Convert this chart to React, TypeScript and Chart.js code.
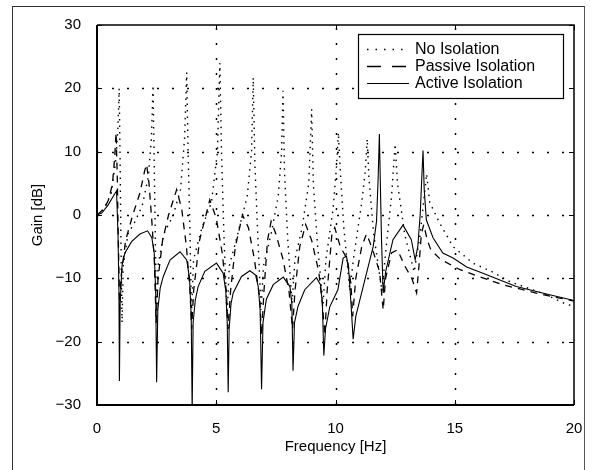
import React, { useEffect, useRef } from "react";
import { Chart, registerables } from "chart.js";

Chart.register(...registerables);

// ---- Data ----
const noIsoFreq = [
  0, 0.3, 0.6, 0.8, 0.88, 0.93, 0.97, 1.0, 1.05, 1.1,
  1.3, 1.6, 1.9, 2.15, 2.28, 2.35, 2.4, 2.45, 2.5, 2.56,
  2.8, 3.2, 3.5, 3.67, 3.76, 3.82, 3.9, 3.96, 4.05, 4.4,
  4.8, 5.05, 5.15, 5.22, 5.32, 5.45, 5.55, 5.9, 6.3, 6.48,
  6.55, 6.62, 6.75, 6.88, 6.98, 7.3, 7.6, 7.74, 7.8, 7.86,
  8.0, 8.18, 8.3, 8.6, 8.88, 9.0, 9.07, 9.25, 9.48, 9.6,
  9.9, 10.05, 10.12, 10.2, 10.35, 10.6, 10.75, 11.1, 11.25, 11.33,
  11.4, 11.6, 11.95, 12.1, 12.35, 12.5, 12.6, 12.9, 13.3, 13.55,
  13.75, 13.82, 13.95, 14.37, 14.93, 15.76, 16.53, 17.3, 18.84, 19.68,
  20,
];
const noIsoGain = [
  0, 1, 3.5, 9, 14, 20, 8, -3, -17, -8,
  -3, -1, 1.5, 6, 12, 20.5, 8, -5, -17, -8,
  -3, 0, 4, 12, 22.5, 10, -3, -16, -7, -2,
  2, 10, 24, 10, -3, -16, -8, -3, 3, 10,
  21.7, 8, -4, -15, -8, -3, 3, 10, 19.6, 7,
  -4, -14, -7, -2, 5, 16.7, 5, -5, -14, -7,
  1, 8, 13, 7, -2, -12, -7, 2, 7, 12,
  6, -3, -12, -6, 3, 11.2, 5, -3, -9, -3,
  4, 6.5, 2, -1.3, -5, -7.6, -8.9, -10.5, -12.6, -14.1,
  -14.4,
];

const passiveFreq = [
  0, 0.3, 0.5, 0.65, 0.74, 0.8, 0.85, 0.9, 0.95, 1.0,
  1.2, 1.5, 1.8, 2.0, 2.08, 2.18, 2.3, 2.4, 2.48, 2.56,
  2.75, 3.0, 3.34, 3.55, 3.75, 3.9, 3.97, 4.05, 4.3, 4.73,
  5.0, 5.25, 5.42, 5.5, 5.6, 5.8, 6.1, 6.35, 6.6, 6.82,
  6.9, 7.0, 7.15, 7.3, 7.5, 7.8, 8.05, 8.2, 8.3, 8.5,
  8.75, 9.0, 9.3, 9.45, 9.55, 9.65, 9.85, 9.97, 10.2, 10.5,
  10.65, 10.72, 10.85, 11.1, 11.3, 11.45, 11.6, 11.85, 12.0, 12.1,
  12.35, 12.6, 12.9, 13.2, 13.4, 13.5, 13.6, 13.7, 13.85, 14.0,
  14.4, 15.2, 16.0, 17.0, 18.5, 20,
];
const passiveGain = [
  0, 1, 2.5, 5, 9, 13, 6, -5, -15, -10,
  -4, 0, 3.5, 7, 8, 5, -1, -7, -17, -10,
  -4, 0, 4, 1, -5, -12, -18, -12, -4, 2.4,
  -0.5, -6, -12, -18, -12, -5, 0, -2, -7, -13,
  -19, -12, -4, -1, -3, -7, -12, -18, -12, -5,
  -1.5, -4, -9, -14, -19, -12, -3, -2, -5, -7,
  -11, -16, -10, -5, -3, -4.4, -6, -9, -15, -10,
  -6, -5.5, -8, -10, -12.3, -8, -3, -1.5, -4, -5.5,
  -7, -8.6, -9.7, -11, -12.4, -13.6,
];

const activeFreq = [
  0, 0.2, 0.47, 0.75, 0.82, 0.88, 0.92, 0.94, 0.97, 1.05,
  1.17, 1.45, 1.8, 2.12, 2.3, 2.4, 2.46, 2.5, 2.55, 2.65,
  2.78, 3.06, 3.48, 3.76, 3.88, 3.95, 3.99, 4.03, 4.12, 4.24,
  4.52, 5.01, 5.29, 5.4, 5.46, 5.5, 5.54, 5.62, 5.71, 6.06,
  6.41, 6.65, 6.76, 6.84, 6.9, 6.96, 7.1, 7.39, 7.81, 8.09,
  8.17, 8.22, 8.28, 8.43, 8.71, 9.2, 9.37, 9.45, 9.51, 9.58,
  9.76, 10.1, 10.32, 10.46, 10.56, 10.65, 10.74, 10.85, 11.16, 11.58,
  11.72, 11.79, 11.84, 11.88, 11.93, 12.0, 12.1, 12.41, 12.83, 13.18,
  13.34, 13.45, 13.55, 13.62, 13.67, 13.72, 13.81, 14.09, 14.5, 14.93,
  15.5, 16.18, 17.58, 18.98, 20,
];
const activeGain = [
  0, 0.3, 1.6, 3.4, 3.8, -3, -12, -26.2, -14, -8,
  -6, -4.2, -3, -2.5, -3.6, -6, -12, -26.4, -15, -11.5,
  -9.7, -7.1, -5.8, -7.1, -10, -16, -31, -17, -13.5, -11.3,
  -8.9, -7.6, -9.2, -12, -17, -28, -18, -14, -12.3, -9.7,
  -8.8, -9.5, -11.3, -15, -27.5, -17, -13.3, -11, -9.8, -11.3,
  -14, -24.6, -17, -14.4, -11.8, -9.9, -11, -14, -22.2, -18,
  -14.5, -11.8, -6.8, -6.5, -9, -14, -19.6, -16, -11.3, -5,
  -1, 6, 12.8, 5, -4, -12.3, -9, -3.9, -1.6, -3.9,
  -7.1, -5, 0, 6, 10.2, 4, -0.8, -3.6, -6, -6.8,
  -8.2, -9.2, -11.3, -12.6, -13.5,
];

const xTicks = [0, 5, 10, 15, 20];
const yTicks = [-30, -20, -10, 0, 10, 20, 30];
const seriesLabels = ["No Isolation", "Passive Isolation", "Active Isolation"];
const xTitle = "Frequency [Hz]";
const yTitle = "Gain [dB]";

const FONT = "'Liberation Sans', Arial, Helvetica, sans-serif";
const DOTTED = [1.5, 5];
const DASHED = [7, 6];

const toPoints = (xs: number[], ys: number[]) => xs.map((x, i) => ({ x, y: ys[i] }));
const fmt = (v: number) => (v < 0 ? "\u2212" + Math.abs(v) : String(v));

const decor = {
  id: "decor",
  beforeDatasetsDraw(chart: any) {
    const { ctx, chartArea: a, scales } = chart;
    const x = scales.x;
    const y = scales.y;
    ctx.save();
    ctx.strokeStyle = "#000";
    ctx.lineWidth = 1.5;
    ctx.setLineDash([2, 13]);
    for (const v of xTicks.slice(1, -1)) {
      const px = Math.round(x.getPixelForValue(v)) + 0.5;
      ctx.beginPath();
      ctx.moveTo(px, a.bottom);
      ctx.lineTo(px, a.top);
      ctx.stroke();
    }
    for (const v of yTicks.slice(1, -1)) {
      const py = Math.round(y.getPixelForValue(v)) + 0.5;
      ctx.beginPath();
      ctx.moveTo(a.left, py);
      ctx.lineTo(a.right, py);
      ctx.stroke();
    }
    ctx.restore();
  },
  afterDraw(chart: any) {
    const { ctx, chartArea: a, scales } = chart;
    const x = scales.x;
    const y = scales.y;
    ctx.save();
    ctx.setLineDash([]);
    ctx.strokeStyle = "#000";
    // axes box
    ctx.lineWidth = 2;
    ctx.beginPath();
    ctx.moveTo(a.left, a.top);
    ctx.lineTo(a.left, a.bottom);
    ctx.lineTo(a.right, a.bottom);
    ctx.stroke();
    ctx.lineWidth = 1.5;
    ctx.beginPath();
    ctx.moveTo(a.left, a.top);
    ctx.lineTo(a.right, a.top);
    ctx.lineTo(a.right, a.bottom);
    ctx.stroke();
    // inward ticks
    ctx.lineWidth = 1;
    const tl = 5;
    for (const v of xTicks) {
      const px = Math.round(x.getPixelForValue(v)) + 0.5;
      ctx.beginPath();
      ctx.moveTo(px, a.bottom);
      ctx.lineTo(px, a.bottom - tl);
      ctx.moveTo(px, a.top);
      ctx.lineTo(px, a.top + tl);
      ctx.stroke();
    }
    for (const v of yTicks) {
      const py = Math.round(y.getPixelForValue(v)) + 0.5;
      ctx.beginPath();
      ctx.moveTo(a.left, py);
      ctx.lineTo(a.left + tl, py);
      ctx.moveTo(a.right, py);
      ctx.lineTo(a.right - tl, py);
      ctx.stroke();
    }
    // axis titles
    ctx.fillStyle = "#000";
    ctx.font = `15px ${FONT}`;
    ctx.textAlign = "center";
    ctx.textBaseline = "middle";
    ctx.fillText(xTitle, (a.left + a.right) / 2, 447);
    ctx.save();
    ctx.translate(38, (a.top + a.bottom) / 2);
    ctx.rotate(-Math.PI / 2);
    ctx.fillText(yTitle, 0, 0);
    ctx.restore();
    // legend
    const lx = 358.5, ly = 34.5, lw = 205, lh = 64;
    ctx.fillStyle = "#fff";
    ctx.fillRect(lx, ly, lw, lh);
    ctx.lineWidth = 1.2;
    ctx.strokeRect(lx, ly, lw, lh);
    const rows = [49, 66, 83];
    const dashes = [[1.5, 7], [14, 11], []];
    const widths = [1.5, 1.5, 1.1];
    ctx.font = `16px ${FONT}`;
    ctx.textAlign = "left";
    ctx.fillStyle = "#000";
    rows.forEach((ry, i) => {
      ctx.setLineDash(dashes[i]);
      ctx.lineWidth = widths[i];
      ctx.beginPath();
      ctx.moveTo(367, ry + 0.5);
      ctx.lineTo(409, ry + 0.5);
      ctx.stroke();
      ctx.setLineDash([]);
      ctx.fillText(seriesLabels[i], 415, ry + 1);
    });
    ctx.restore();
  },
};

export default function App() {
  const ref = useRef<HTMLCanvasElement | null>(null);
  useEffect(() => {
    if (!ref.current) return;
    const chart = new Chart(ref.current, {
      type: "line",
      data: {
        datasets: [
          {
            label: seriesLabels[0],
            data: toPoints(noIsoFreq, noIsoGain),
            borderColor: "#000",
            borderWidth: 1.4,
            borderDash: DOTTED,
            pointRadius: 0,
            tension: 0,
            fill: false,
          },
          {
            label: seriesLabels[1],
            data: toPoints(passiveFreq, passiveGain),
            borderColor: "#000",
            borderWidth: 1.3,
            borderDash: DASHED,
            pointRadius: 0,
            tension: 0,
            fill: false,
          },
          {
            label: seriesLabels[2],
            data: toPoints(activeFreq, activeGain),
            borderColor: "#000",
            borderWidth: 1.1,
            pointRadius: 0,
            tension: 0,
            fill: false,
          },
        ],
      },
      options: {
        animation: false,
        responsive: false,
        devicePixelRatio: 1,
        layout: { padding: { left: 0, top: 25, right: 20, bottom: 0 } },
        plugins: { legend: { display: false }, tooltip: { enabled: false } },
        scales: {
          x: {
            type: "linear",
            min: 0,
            max: 20,
            grid: { display: false },
            border: { display: false },
            afterFit: (s: any) => {
              s.height = 65;
            },
            afterBuildTicks: (s: any) => {
              s.ticks = xTicks.map((v) => ({ value: v }));
            },
            ticks: {
              color: "#000",
              padding: 7,
              maxRotation: 0,
              font: { family: FONT, size: 15 },
              callback: (v: any) => fmt(Number(v)),
            },
          },
          y: {
            type: "linear",
            min: -30,
            max: 30,
            grid: { display: false },
            border: { display: false },
            afterFit: (s: any) => {
              s.width = 97;
            },
            afterBuildTicks: (s: any) => {
              s.ticks = yTicks.map((v) => ({ value: v }));
            },
            ticks: {
              color: "#000",
              padding: 8,
              font: { family: FONT, size: 15 },
              callback: (v: any) => fmt(Number(v)),
            },
          },
        },
      },
      plugins: [decor],
    } as any);
    return () => chart.destroy();
  }, []);

  return (
    <div style={{ position: "fixed", left: 0, top: 0, width: 594, height: 470, background: "#fff", overflow: "hidden" }}>
      <canvas ref={ref} width={594} height={470} style={{ width: 594, height: 470, display: "block" }} />
      <div
        style={{
          position: "absolute",
          left: 12,
          top: 6,
          width: 571,
          height: 500,
          borderLeft: "1px solid #333",
          borderTop: "1px solid #333",
          borderRight: "1px solid #555",
          pointerEvents: "none",
        }}
      />
    </div>
  );
}
